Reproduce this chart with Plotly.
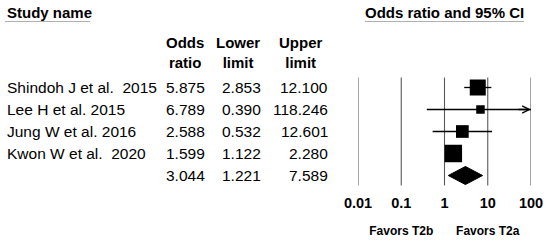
import math
import plotly.graph_objects as go

# ---------------- data ----------------
studies = ["Shindoh J et al.\u00a0 2015", "Lee H et al. 2015", "Jung W et al. 2016", "Kwon W et al.\u00a0 2020"]
odds_ratio = [5.875, 6.789, 2.588, 1.599]
lower_limit = [2.853, 0.390, 0.532, 1.122]
upper_limit = [12.100, 118.246, 12.601, 2.280]
summary_or = 3.044
summary_lower = 1.221
summary_upper = 7.589
marker_sizes = [16, 8.5, 12.7, 17.5]
tick_vals = [0.01, 0.1, 1, 10, 100]
tick_text = ["0.01", "0.1", "1", "10", "100"]
favors_text = ["Favors T2b", "Favors T2a"]
favors_at = [0.1, 10]

FONT = "Liberation Sans, Arial, sans-serif"
W, H = 550, 244
row_px0, row_step = 87.5, 22.0

rows = list(range(len(studies)))
summary_row = len(studies)

fig = go.Figure()

# gridlines
gx, gy = [], []
for v in tick_vals:
    gx += [v, v, None]
    gy += [-0.45, summary_row + 0.45, None]
fig.add_trace(go.Scatter(x=gx, y=gy, mode="lines", line=dict(color="#5a5a5a", width=1.1),
                         hoverinfo="skip", showlegend=False))

# CI lines
for i in rows:
    fig.add_trace(go.Scatter(x=[lower_limit[i], upper_limit[i]], y=[i, i], mode="lines",
                             line=dict(color="black", width=1.3), hoverinfo="skip", showlegend=False))

# squares
fig.add_trace(go.Scatter(x=odds_ratio, y=rows, mode="markers",
                         marker=dict(symbol="square", size=marker_sizes, color="black",
                                     opacity=1, line=dict(width=0)),
                         showlegend=False))

# summary diamond
hh = 0.41
fig.add_trace(go.Scatter(x=[summary_lower, summary_or, summary_upper, summary_or, summary_lower],
                         y=[summary_row, summary_row - hh, summary_row, summary_row + hh, summary_row],
                         mode="lines", fill="toself", fillcolor="black",
                         line=dict(color="black", width=1), showlegend=False, hoverinfo="skip"))

# tick labels
fig.add_trace(go.Scatter(x=tick_vals, y=[summary_row + 1.3] * len(tick_vals), mode="text",
                         text=tick_text, textfont=dict(family=FONT, size=14.5, color="black", weight="bold"),
                         cliponaxis=False, showlegend=False, hoverinfo="skip"))
# favors labels
fig.add_trace(go.Scatter(x=favors_at, y=[summary_row + 2.57] * 2, mode="text",
                         text=favors_text, textfont=dict(family=FONT, size=12, color="black", weight="bold"),
                         cliponaxis=False, showlegend=False, hoverinfo="skip"))

annotations = []
# arrow for CI beyond axis
for i in rows:
    if upper_limit[i] > tick_vals[-1]:
        annotations.append(dict(x=math.log10(tick_vals[-1]), y=i, xref="x", yref="y", text="",
                                showarrow=True, ax=-14, ay=0, arrowhead=5, arrowsize=1.1,
                                arrowwidth=1.3, arrowcolor="black", standoff=0))

def txt(x, y, t, anchor="left", size=15.5, bold=False, align="left"):
    annotations.append(dict(x=x / W, y=y, xref="paper", yref="y", text=t, showarrow=False,
                            xanchor=anchor, yanchor="middle", align=align,
                            font=dict(family=FONT, size=size, color="black",
                                      weight="bold" if bold else "normal")))

# headers
txt(5, -3.42, "Study name", bold=True, size=15)
txt(444.5, -3.42, "Odds ratio and 95% CI", anchor="center", bold=True, size=15)
txt(185, -1.61, "Odds<br>ratio", anchor="center", bold=True, size=15, align="center")
txt(238, -1.61, "Lower<br>limit", anchor="center", bold=True, size=15, align="center")
txt(301, -1.61, "Upper<br>limit", anchor="center", bold=True, size=15, align="center")

for i in rows:
    txt(5, i, studies[i])
    txt(207, i, f"{odds_ratio[i]:.3f}", anchor="right")
    txt(263, i, f"{lower_limit[i]:.3f}", anchor="right")
    txt(330, i, f"{upper_limit[i]:.3f}", anchor="right")
txt(207, summary_row, f"{summary_or:.3f}", anchor="right")
txt(263, summary_row, f"{summary_lower:.3f}", anchor="right")
txt(330, summary_row, f"{summary_upper:.3f}", anchor="right")

shapes = [
    dict(type="line", xref="paper", yref="y", x0=5 / W, x1=90 / W, y0=-3.0, y1=-3.0,
         line=dict(color="#b0b0b0", width=1)),
    dict(type="line", xref="paper", yref="y", x0=365 / W, x1=524 / W, y0=-3.0, y1=-3.0,
         line=dict(color="#b0b0b0", width=1)),
]

fig.update_layout(
    width=W, height=H, margin=dict(l=0, r=0, t=0, b=0),
    paper_bgcolor="white", plot_bgcolor="rgba(0,0,0,0)",
    xaxis=dict(type="log", range=[-2, 2], domain=[358 / W, 531 / W], visible=False),
    yaxis=dict(range=[(H - row_px0) / row_step, -row_px0 / row_step], domain=[0, 1], visible=False),
    annotations=annotations, shapes=shapes, showlegend=False,
)

fig.write_html("out.html", config={"displayModeBar": False},
               post_script="document.body.style.margin='0';document.body.style.overflow='hidden';")
